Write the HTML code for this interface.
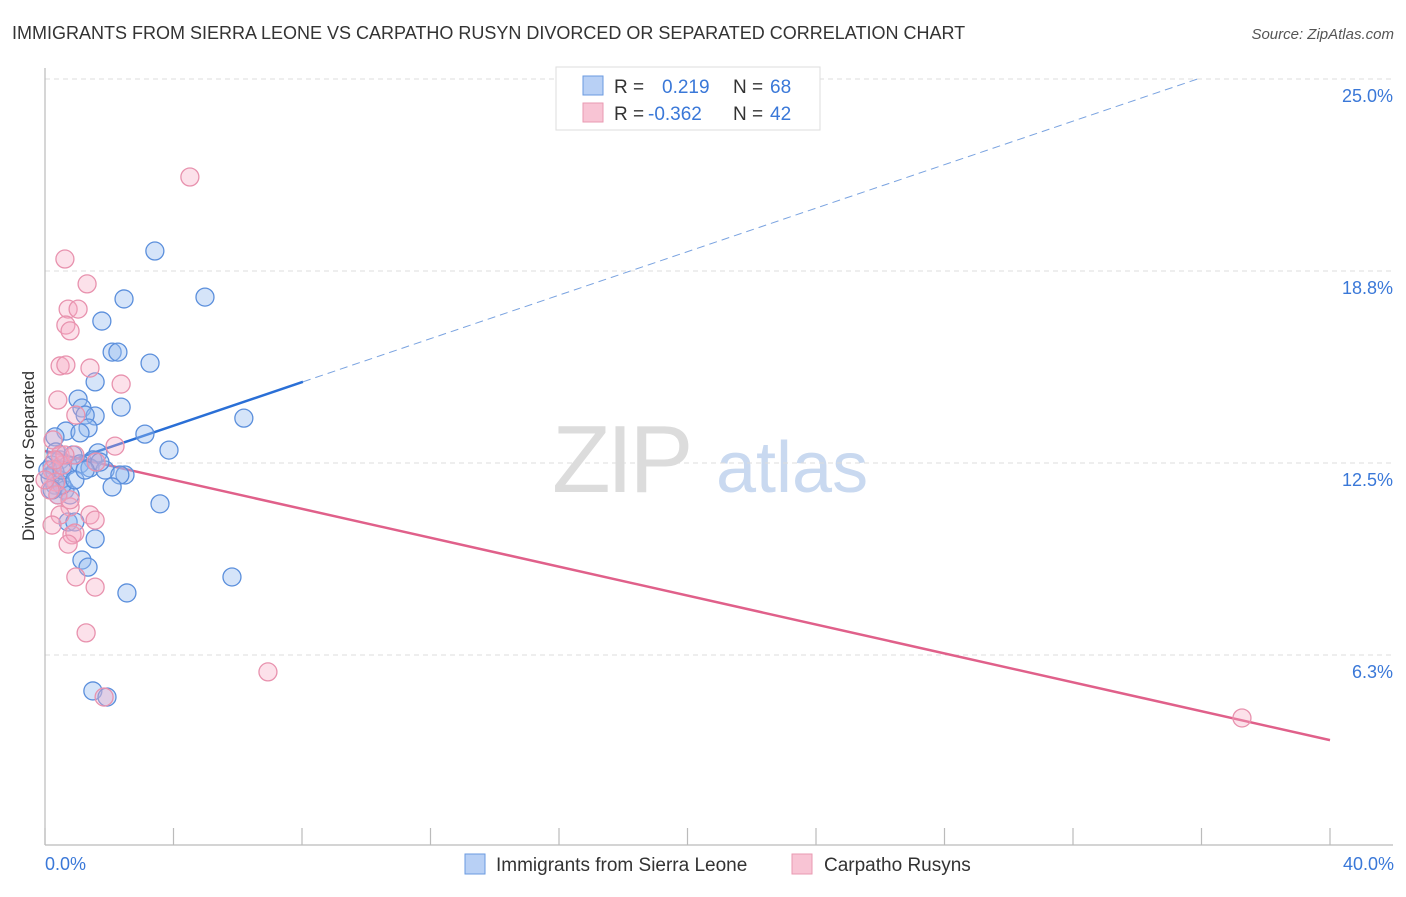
<!DOCTYPE html>
<html><head><meta charset="utf-8"><style>
body{margin:0;background:#fff;font-family:"Liberation Sans",sans-serif}
svg text{font-family:"Liberation Sans",sans-serif}
</style></head><body>
<svg id="chart" width="1406" height="892" viewBox="0 0 1406 892" xmlns="http://www.w3.org/2000/svg">
<text x="12" y="39" font-size="18" fill="#333">IMMIGRANTS FROM SIERRA LEONE VS CARPATHO RUSYN DIVORCED OR SEPARATED CORRELATION CHART</text>
<text x="1394" y="39" font-size="15" fill="#555" font-style="italic" text-anchor="end">Source: ZipAtlas.com</text>
<g>
<text x="552" y="492" font-size="96" fill="#dcdcdc" font-family="Liberation Serif" letter-spacing="-4">ZIP</text>
<text x="716" y="492" font-size="72" fill="#c9d9f0">atlas</text>
</g>
<g id="grid"></g>
<line x1="45" y1="68" x2="45" y2="845" stroke="#bbb" stroke-width="1.2"/>
<line x1="45" y1="845" x2="1393" y2="845" stroke="#bbb" stroke-width="1.2"/>
<g id="ticks"></g>
<text transform="translate(34,456) rotate(-90)" font-size="17" fill="#333" text-anchor="middle">Divorced or Separated</text>
<text x="45" y="870" font-size="18" fill="#3a78d8">0.0%</text>
<text x="1394" y="870" font-size="18" fill="#3a78d8" text-anchor="end">40.0%</text>
<g id="lines"></g>
<g id="points"></g>
<g>
<rect x="556" y="67" width="264" height="63" fill="#fff" stroke="#ddd"/>
<rect x="583" y="76" width="20" height="19" fill="#b8d0f5" stroke="#6a9ae0"/>
<rect x="583" y="103" width="20" height="19" fill="#f8c4d4" stroke="#e99ab2"/>
<text x="614" y="93" font-size="19" fill="#333">R = </text><text x="662" y="93" font-size="19" fill="#3a78d8">0.219</text>
<text x="733" y="93" font-size="19" fill="#333">N = </text><text x="770" y="93" font-size="19" fill="#3a78d8">68</text>
<text x="614" y="120" font-size="19" fill="#333">R = </text><text x="648" y="120" font-size="19" fill="#3a78d8">-0.362</text>
<text x="733" y="120" font-size="19" fill="#333">N = </text><text x="770" y="120" font-size="19" fill="#3a78d8">42</text>
</g>
<g>
<rect x="465" y="854" width="20" height="20" fill="#b8d0f5" stroke="#6a9ae0"/>
<text x="496" y="871" font-size="19" fill="#333">Immigrants from Sierra Leone</text></g>
<g>
<rect x="792" y="854" width="20" height="20" fill="#f8c4d4" stroke="#e99ab2"/>
<text x="824" y="871" font-size="19" fill="#333">Carpatho Rusyns</text></g>
</svg>
<script>
const yTicks=[25,18.75,12.5,6.25];
const yTickLabels=["25.0%","18.8%","12.5%","6.3%"];
const blueX=[3.42,4.98,2.46,1.77,2.09,2.27,3.27,1.56,2.37,1.03,1.15,1.56,1.25,1.34,0.65,1.09,0.31,3.11,6.19,3.86,1.65,1.49,0.87,0.47,0.72,1.09,1.40,1.87,2.49,2.33,2.09,0.47,0.31,0.16,0.62,0.78,0.40,3.58,0.72,0.93,1.56,1.15,1.34,2.55,5.82,1.49,1.93,0.22,0.31,0.53,0.09,0.34,0.53,0.22,0.93,1.71,1.25];
const blueY=[19.40,17.90,17.84,17.12,16.11,16.11,15.75,15.14,14.32,14.58,14.29,14.03,14.06,13.64,13.54,13.48,13.35,13.44,13.96,12.92,12.83,12.60,12.76,12.60,12.43,12.47,12.34,12.27,12.11,12.11,11.72,11.95,11.78,12.01,11.62,11.46,11.46,11.17,10.58,10.58,10.03,9.34,9.11,8.27,8.79,5.08,4.88,12.43,12.21,11.78,12.27,12.86,12.27,11.62,11.95,12.53,12.27];
const pinkX=[4.51,0.62,1.31,0.72,1.03,0.65,0.78,0.47,0.65,1.40,2.37,0.40,0.96,2.18,0.25,0.47,0.22,0.34,0.40,0.53,0.93,1.59,0.78,0.47,1.40,1.56,0.22,0.84,0.93,0.72,0.96,1.56,1.28,6.94,1.84,37.26,0.62,0.16,0.31,0.0,0.78];
const pinkY=[21.81,19.14,18.33,17.51,17.51,16.99,16.80,15.66,15.69,15.59,15.07,14.55,14.06,13.05,13.25,12.76,12.27,11.88,11.46,12.43,12.76,12.53,11.07,10.81,10.81,10.64,10.48,10.16,10.22,9.86,8.79,8.46,6.97,5.70,4.88,4.20,12.76,11.62,12.60,11.95,11.30];
const blueTrend=[12.30,0.354];   // intercept, slope
const pinkTrend=[12.89,-0.2353];
const NS="http://www.w3.org/2000/svg";
const X=v=>45+v*1285/40, Y=v=>847-v*30.72;
function mk(tag,attrs,parent){const e=document.createElementNS(NS,tag);for(const k in attrs)e.setAttribute(k,attrs[k]);parent.appendChild(e);return e;}
const grid=document.getElementById('grid'),ticks=document.getElementById('ticks'),lines=document.getElementById('lines'),pts=document.getElementById('points');
yTicks.forEach((t,i)=>{
 const l=mk('line',{x1:45,x2:1393,y1:Y(t),y2:Y(t),stroke:'#ddd','stroke-dasharray':'5,4'},grid);
 
 
 const tx=mk('text',{x:1393,y:Y(t)+23,'font-size':18,fill:'#3a78d8','text-anchor':'end'},grid);
 tx.textContent=yTickLabels[i];
 
 
});
for(let k=0;k<=10;k++){
 const l=mk('line',{x1:X(k*4),x2:X(k*4),y1:828,y2:845,stroke:'#bbb','stroke-width':1.2},ticks);
 
 
}
// blue trend
const bx1=8.03, bx2=(25-blueTrend[0])/blueTrend[1];
const b1=mk('line',{x1:X(0),y1:Y(blueTrend[0]),x2:X(bx1),y2:Y(blueTrend[0]+blueTrend[1]*bx1),stroke:'#2a6fd6','stroke-width':2.5},lines);


const b2=mk('line',{x1:X(bx1),y1:Y(blueTrend[0]+blueTrend[1]*bx1),x2:X(bx2),y2:Y(25),stroke:'#7aa3e0','stroke-width':1,'stroke-dasharray':'8,5'},lines);


const p1=mk('line',{x1:X(0),y1:Y(pinkTrend[0]),x2:X(40),y2:Y(pinkTrend[0]+pinkTrend[1]*40),stroke:'#e0608a','stroke-width':2.5},lines);


blueX.forEach((x,i)=>{
 const c=mk('circle',{cx:X(x),cy:Y(blueY[i]),r:9,fill:'rgba(150,188,240,0.4)',stroke:'#5b8fdc','stroke-width':1.3},pts);
 
 
});
pinkX.forEach((x,i)=>{
 const c=mk('circle',{cx:X(x),cy:Y(pinkY[i]),r:9,fill:'rgba(245,170,195,0.35)',stroke:'#e892ae','stroke-width':1.3},pts);
 
 
});
</script>
</body></html>
